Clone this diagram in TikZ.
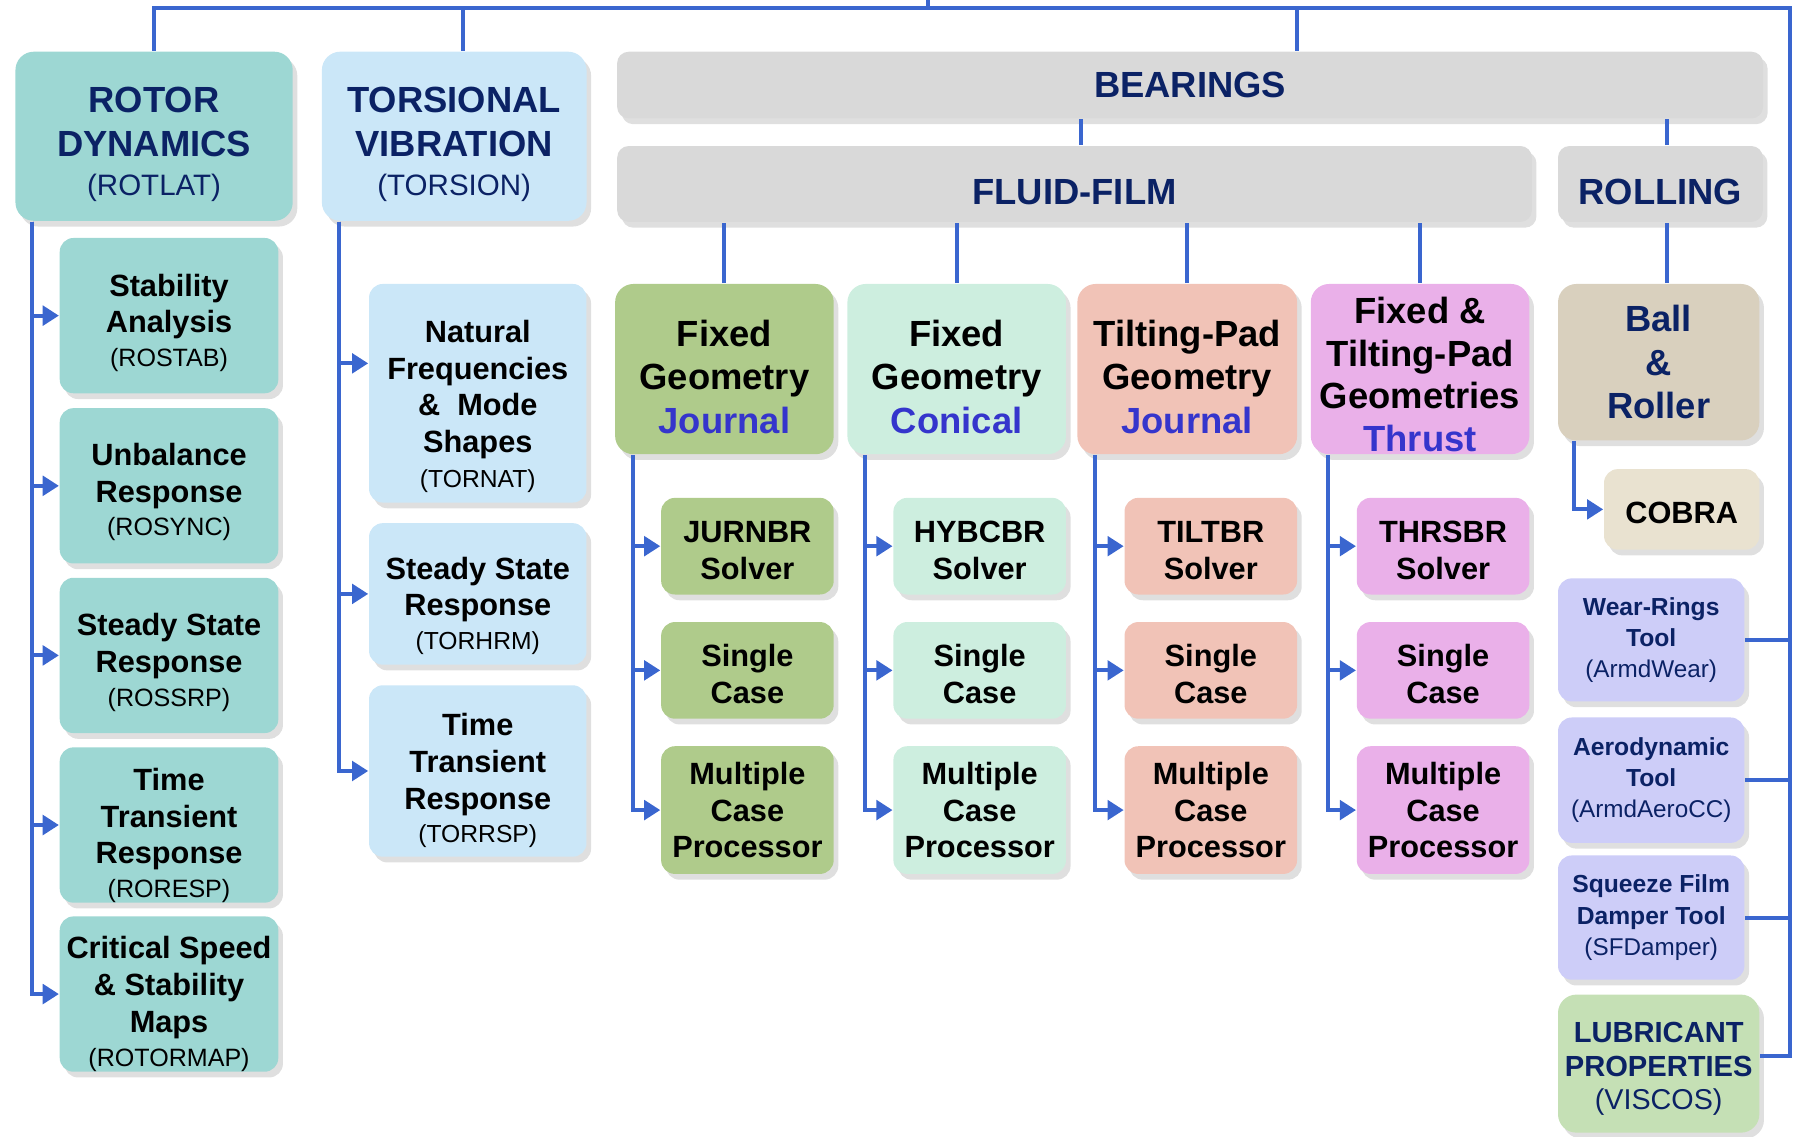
\documentclass[tikz,border=0pt]{standalone}
\usepackage{fontspec}
\setmainfont{Liberation Sans}
\usetikzlibrary{calc,arrows.meta,shadows}

\definecolor{linkblue}{HTML}{3A66CF}
\definecolor{navy}{HTML}{0B2265}
\definecolor{titleblue}{HTML}{3535CC}
\definecolor{rotcol}{HTML}{9DD7D3}
\definecolor{torcol}{HTML}{CBE7F8}
\definecolor{bargray}{HTML}{D9D9D9}
\definecolor{jrncol}{HTML}{AFCB8B}
\definecolor{concol}{HTML}{CDEEDF}
\definecolor{tpcol}{HTML}{F1C3B7}
\definecolor{thrcol}{HTML}{EAB0E9}
\definecolor{ballcol}{HTML}{D9D0BE}
\definecolor{cobcol}{HTML}{E9E2D0}
\definecolor{toolcol}{HTML}{CDCDF8}
\definecolor{lubcol}{HTML}{C5E0B5}

\newcommand{\prog}[2]{{\mdseries\fontsize{#1}{#1}\selectfont #2}}
\newcommand{\topgap}[1]{\rule{0pt}{#1}}

\begin{document}
\begin{tikzpicture}[x=0.01cm,y=-0.01cm,
		link/.style={draw=linkblue,line width=1pt},
		tip/.style={link,-{Triangle[length=4pt,width=4.8pt]}},
		rbox/.style={rounded corners=0.16cm,align=center,inner xsep=1pt,inner ysep=0pt,
			drop shadow={opacity=0.25,shadow xshift=0.04cm,shadow yshift=-0.05cm}},
		head/.style={rbox,text=navy,font=\fontsize{9}{10.8}\selectfont\bfseries},
		barbox/.style={rbox,rounded corners=0.1cm,fill=bargray,text=navy,font=\fontsize{9}{10.8}\selectfont\bfseries},
		childbox/.style={rbox,rounded corners=0.12cm,text=black,font=\fontsize{7.6}{9.1}\selectfont\bfseries},
		toolbox/.style={rbox,rounded corners=0.12cm,fill=toolcol,text=navy,minimum width=1.62cm,font=\fontsize{6.1}{7.7}\selectfont\bfseries}]
		\useasboundingbox (0,0) rectangle (1568,988);
		\coordinate (tin) at (807,0);
		\coordinate (ttv) at (403,7);
		\coordinate (tbr) at (1128,7);
		\coordinate (tr) at (1557,7);
		% top level
		\node[head,fill=rotcol,minimum width=2.41cm,minimum height=1.47cm] (rd) at (134,118.5) {\topgap{10.5pt}ROTOR\\DYNAMICS\\[-1.1pt]\prog{7.3}{(ROTLAT)}};
		\node[head,fill=torcol,minimum width=2.30cm,minimum height=1.47cm] (tv) at (395,118.5) {\topgap{10.5pt}TORSIONAL\\VIBRATION\\[-1.1pt]\prog{7.3}{(TORSION)}};
		\node[barbox,minimum width=9.96cm,minimum height=0.58cm] (bear) at (1035,74) {BEARINGS};
		\node[barbox,minimum width=7.95cm,minimum height=0.66cm,text height=10pt] (ff) at (934.5,160) {FLUID-FILM};
		\node[barbox,minimum width=1.78cm,minimum height=0.66cm,text height=10pt] (rol) at (1444,160) {ROLLING};
		% bearing types
		\node[head,text=black,fill=jrncol,minimum width=1.90cm,minimum height=1.48cm] (fj) at (630,321) {\topgap{10.3pt}Fixed\\Geometry\\\textcolor{titleblue}{Journal}};
		\node[head,text=black,fill=concol,minimum width=1.90cm,minimum height=1.48cm] (fc) at (832,321) {\topgap{10.3pt}Fixed\\Geometry\\\textcolor{titleblue}{Conical}};
		\node[head,text=black,fill=tpcol,minimum width=1.91cm,minimum height=1.48cm] (tj) at (1032.5,321) {\topgap{10.3pt}Tilting-Pad\\Geometry\\\textcolor{titleblue}{Journal}};
		\node[head,text=black,fill=thrcol,minimum width=1.90cm,minimum height=1.48cm,font=\fontsize{9}{10.5}\selectfont\bfseries] (th) at (1235,321) {\topgap{9.2pt}Fixed \&\\Tilting-Pad\\Geometries\\\textcolor{titleblue}{Thrust}};
		\node[head,fill=ballcol,minimum width=1.75cm,minimum height=1.36cm] (ball) at (1442.5,315) {Ball\\\&\\Roller};
		\node[childbox,fill=cobcol,minimum width=1.35cm,minimum height=0.70cm] (cob) at (1462.5,443) {\topgap{7.2pt}COBRA};
		% rotor dynamics
		\node[childbox,fill=rotcol,minimum width=1.90cm,minimum height=1.35cm] (rs1) at (147,274.5) {\topgap{9pt}Stability\\Analysis\\[-0.8pt]\prog{6.2}{(ROSTAB)}};
		\node[childbox,fill=rotcol,minimum width=1.90cm,minimum height=1.35cm] (rs2) at (147,422.5) {\topgap{8.6pt}Unbalance\\Response\\[-0.8pt]\prog{6.2}{(ROSYNC)}};
		\node[childbox,fill=rotcol,minimum width=1.90cm,minimum height=1.35cm] (rs3) at (147,570) {\topgap{9pt}Steady State\\Response\\[-0.8pt]\prog{6.2}{(ROSSRP)}};
		\node[childbox,fill=rotcol,minimum width=1.90cm,minimum height=1.35cm] (rs4) at (147,717.5) {\topgap{10.6pt}Time\\Transient\\Response\\[-0.8pt]\prog{6.2}{(RORESP)}};
		\node[childbox,fill=rotcol,minimum width=1.90cm,minimum height=1.35cm] (rs5) at (147,864.5) {\topgap{10.4pt}Critical Speed\\\& Stability\\Maps\\[-0.8pt]\prog{6.2}{(ROTORMAP)}};
		% torsion
		\node[childbox,fill=torcol,minimum width=1.89cm,minimum height=1.90cm] (tc1) at (415.5,342) {\topgap{11.9pt}Natural\\Frequencies\\\&~ Mode\\Shapes\\[-0.6pt]\prog{6.1}{(TORNAT)}};
		\node[childbox,fill=torcol,minimum width=1.89cm,minimum height=1.23cm] (tc2) at (415.5,516.5) {\topgap{11.3pt}Steady State\\Response\\[-0.8pt]\prog{6.1}{(TORHRM)}};
		\node[childbox,fill=torcol,minimum width=1.89cm,minimum height=1.49cm] (tc3) at (415.5,670.5) {\topgap{10.2pt}Time\\Transient\\Response\\[-0.8pt]\prog{6.1}{(TORRSP)}};
		% fluid-film solvers
		\node[childbox,fill=jrncol,minimum width=1.50cm,minimum height=0.84cm] (j1) at (650,475) {\topgap{7.3pt}JURNBR\\Solver};
		\node[childbox,fill=jrncol,minimum width=1.50cm,minimum height=0.84cm] (j2) at (650,583) {\topgap{7.3pt}Single\\Case};
		\node[childbox,fill=jrncol,minimum width=1.50cm,minimum height=1.11cm] (j3) at (650,704.5) {Multiple\\Case\\Processor};
		\node[childbox,fill=concol,minimum width=1.50cm,minimum height=0.84cm] (c1) at (852,475) {\topgap{7.3pt}HYBCBR\\Solver};
		\node[childbox,fill=concol,minimum width=1.50cm,minimum height=0.84cm] (c2) at (852,583) {\topgap{7.3pt}Single\\Case};
		\node[childbox,fill=concol,minimum width=1.50cm,minimum height=1.11cm] (c3) at (852,704.5) {Multiple\\Case\\Processor};
		\node[childbox,fill=tpcol,minimum width=1.50cm,minimum height=0.84cm] (t1) at (1053,475) {\topgap{7.3pt}TILTBR\\Solver};
		\node[childbox,fill=tpcol,minimum width=1.50cm,minimum height=0.84cm] (t2) at (1053,583) {\topgap{7.3pt}Single\\Case};
		\node[childbox,fill=tpcol,minimum width=1.50cm,minimum height=1.11cm] (t3) at (1053,704.5) {Multiple\\Case\\Processor};
		\node[childbox,fill=thrcol,minimum width=1.50cm,minimum height=0.84cm] (h1) at (1255,475) {\topgap{7.3pt}THRSBR\\Solver};
		\node[childbox,fill=thrcol,minimum width=1.50cm,minimum height=0.84cm] (h2) at (1255,583) {\topgap{7.3pt}Single\\Case};
		\node[childbox,fill=thrcol,minimum width=1.50cm,minimum height=1.11cm] (h3) at (1255,704.5) {Multiple\\Case\\Processor};
		% tools
		\node[toolbox,minimum height=1.07cm] (wr) at (1436,556.5) {Wear-Rings\\Tool\\\prog{6}{(ArmdWear)}};
		\node[toolbox,minimum height=1.09cm] (ad) at (1436,678.5) {Aerodynamic\\Tool\\\prog{6}{(ArmdAeroCC)}};
		\node[toolbox,minimum height=1.08cm] (sf) at (1436,798) {Squeeze Film\\Damper Tool\\\prog{6}{(SFDamper)}};
		\node[rbox,fill=lubcol,text=navy,font=\fontsize{7.2}{8.5}\selectfont\bfseries,minimum width=1.75cm,minimum height=1.20cm] (lub) at (1442.5,925) {\topgap{7.5pt}LUBRICANT\\PROPERTIES\\[-0.5pt]\prog{7.1}{(VISCOS)}};
		% connectors
		\draw[link] (rd.north) |- (tr) |- ($(lub.east)+(0,-7)$);
		\draw[link] (tin) -- (tin |- tr);
		\draw[link] (ttv) -- (ttv |- tv.north);
		\draw[link] (tbr) -- (tbr |- bear.north);
		\draw[link] ($(ff.north)+(6,0)$) -- ($(ff.north |- bear.south)+(6,0)$);
		\draw[link] ($(rol.north)+(6,0)$) -- ($(rol.north |- bear.south)+(6,0)$);
		\draw[link] (fj.north) -- (fj.north |- ff.south);
		\draw[link] (fc.north) -- (fc.north |- ff.south);
		\draw[link] (tj.north) -- (tj.north |- ff.south);
		\draw[link] (th.north) -- (th.north |- ff.south);
		\draw[link] ($(ball.north)+(7,0)$) -- ($(ball.north |- rol.south)+(7,0)$);
		\draw[tip] ($(ball.south west)+(15,0)$) |- (cob.west);
		\draw[link] (wr.east) -- (wr.east -| tr);
		\draw[link] (ad.east) -- (ad.east -| tr);
		\draw[link] (sf.east) -- (sf.east -| tr);
		\draw[tip] ($(rd.south west)+(15,0)$) |- (rs1.west);
		\draw[tip] ($(rd.south west)+(15,0)$) |- (rs2.west);
		\draw[tip] ($(rd.south west)+(15,0)$) |- (rs3.west);
		\draw[tip] ($(rd.south west)+(15,0)$) |- (rs4.west);
		\draw[tip] ($(rd.south west)+(15,0)$) |- (rs5.west);
		\draw[tip] ($(tv.south west)+(16,0)$) |- ($(tc1.west)+(0,-26)$);
		\draw[tip] ($(tv.south west)+(16,0)$) |- (tc2.west);
		\draw[tip] ($(tv.south west)+(16,0)$) |- (tc3.west);
		\draw[tip] ($(fj.south west)+(16,0)$) |- (j1.west);
		\draw[tip] ($(fj.south west)+(16,0)$) |- (j2.west);
		\draw[tip] ($(fj.south west)+(16,0)$) |- (j3.west);
		\draw[tip] ($(fc.south west)+(16,0)$) |- (c1.west);
		\draw[tip] ($(fc.south west)+(16,0)$) |- (c2.west);
		\draw[tip] ($(fc.south west)+(16,0)$) |- (c3.west);
		\draw[tip] ($(tj.south west)+(16,0)$) |- (t1.west);
		\draw[tip] ($(tj.south west)+(16,0)$) |- (t2.west);
		\draw[tip] ($(tj.south west)+(16,0)$) |- (t3.west);
		\draw[tip] ($(th.south west)+(16,0)$) |- (h1.west);
		\draw[tip] ($(th.south west)+(16,0)$) |- (h2.west);
		\draw[tip] ($(th.south west)+(16,0)$) |- (h3.west);
\end{tikzpicture}
\end{document}
